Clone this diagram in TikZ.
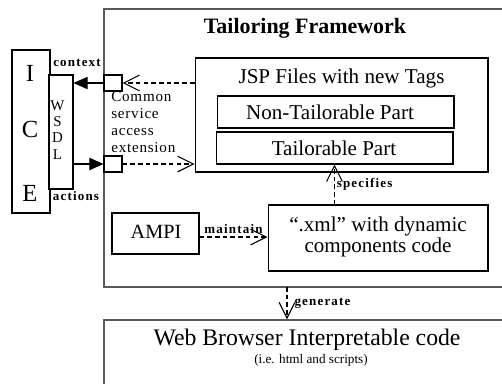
\documentclass[tikz,border=0pt]{standalone}
\usepackage{fontspec}
\setmainfont{Liberation Serif}
\newfontfamily\wideserif[LetterSpace=9]{Liberation Serif}
\newfontfamily\cseserif[LetterSpace=5]{Liberation Serif}
\usetikzlibrary{arrows.meta,positioning,shapes}

\begin{document}
\begin{tikzpicture}[x=0.02cm, y=-0.02cm, thin]

	\tikzstyle{box}=[rectangle, draw, line width=0.6pt, fill=white, inner sep=0pt]
	\tikzstyle{txt}=[inner sep=0pt, font=\fontsize{12}{14}\selectfont]
	\tikzstyle{tag}=[inner sep=1pt, font=\wideserif\bfseries\fontsize{7.4}{8}\selectfont]
	\tikzstyle{dasharrow}=[dash pattern=on 2.6pt off 1.8pt, line width=0.6pt, -{Straight Barb[length=9pt, width=9pt]}]
	\tikzstyle{fullarrow}=[line width=0.6pt, -{Triangle[length=8pt, width=7pt]}]

	\useasboundingbox (0,0) rectangle (502,383);
	\clip (0,0) rectangle (502,383);

	% framework and output
	\node[box, draw=black!65, line width=0.8pt, minimum width=10.32cm, minimum height=5.56cm] (frame) at (362,148) {};
	\node[txt, font=\fontsize{12.5}{14}\selectfont\bfseries] (title) at (305,28) {Tailoring Framework};
	\node[box, draw=black!65, line width=0.8pt, minimum width=10.32cm, minimum height=2.2cm] (web) at (362,375) {};
	\node[txt, font=\fontsize{13.5}{16}\selectfont] (webtxt) at (307,340) {Web Browser Interpretable code};
	\node[txt, font=\fontsize{7.5}{9}\selectfont] (websub) at (311,360) {(i.e. html and scripts)};

	% ICE and WSDL
	\node[box, minimum width=0.76cm, minimum height=3.26cm] (ice) at (31,131.5) {};
	\node[txt, font=\fontsize{14}{16}\selectfont] (i) at (30,73) {I};
	\node[txt, font=\fontsize{14}{16}\selectfont] (c) at (30,129) {C};
	\node[txt, font=\fontsize{14}{16}\selectfont] (e) at (30,193) {E};
	\node[box, minimum width=0.48cm, minimum height=2.28cm] (wsdl) at (61,132) {};
	\node[txt, font=\fontsize{8.5}{9.2}\selectfont, align=center] (wsdltxt) at (57.5,130) {W\\S\\D\\L};
	\node[tag] (ctx) at (77,63) {context};
	\node[tag] (act) at (76,196) {actions};

	% service access extension
	\node[box, minimum width=0.36cm, minimum height=0.32cm] (sq1) at (113,83) {};
	\node[box, minimum width=0.36cm, minimum height=0.32cm] (sq2) at (113,164) {};
	\node[inner sep=0pt, anchor=north west, align=left, font=\cseserif\fontsize{8.6}{9.7}\selectfont] (cse) at (111,91) {Common\\service\\access\\extension};

	% JSP files
	\node[box, minimum width=5.86cm, minimum height=2.28cm] (jsp) at (341.5,115) {};
	\node[txt] (jsptxt) at (341.5,78) {JSP Files with new Tags};
	\node[box, minimum width=4.74cm, minimum height=0.64cm] (ntp) at (335.5,112) {};
	\node[txt] (ntptxt) at (330,112) {Non-Tailorable Part};
	\node[box, minimum width=4.74cm, minimum height=0.64cm] (tp) at (334.5,148) {};
	\node[txt] (tptxt) at (334,148) {Tailorable Part};

	% AMPI and xml
	\node[box, minimum width=1.74cm, minimum height=0.82cm] (ampi) at (155.5,233.5) {};
	\node[txt, font=\fontsize{11.5}{14}\selectfont] (ampitxt) at (156,232) {AMPI};
	\node[box, minimum width=4.4cm, minimum height=1.32cm] (xml) at (378,238) {};
	\node[txt, align=center, font=\fontsize{12}{11.5}\selectfont] (xmltxt) at (378,237) {``.xml'' with dynamic\\components code};

	\coordinate (gen) at (287,287);

	% connectors
	\draw[fullarrow] (sq1) -- (sq1 -| wsdl.east);
	\draw[fullarrow] (wsdl.east |- sq2) -- (sq2.west);
	\draw[dasharrow] (jsp.west |- sq1) -- (sq1.east);
	\draw[dasharrow] (sq2.east) -- (sq2 -| jsp.west);
	\draw[dasharrow] (tp.south |- xml.north) -- node[tag, right] {specifies} (tp.south);
	\draw[dasharrow] (ampi.east |- 0,237) -- node[tag, above=0.5pt] {maintain} (xml.west |- 0,237);
	\draw[dasharrow] (gen) -- node[tag, right=3pt] {generate} (gen |- web.north);

\end{tikzpicture}
\end{document}
